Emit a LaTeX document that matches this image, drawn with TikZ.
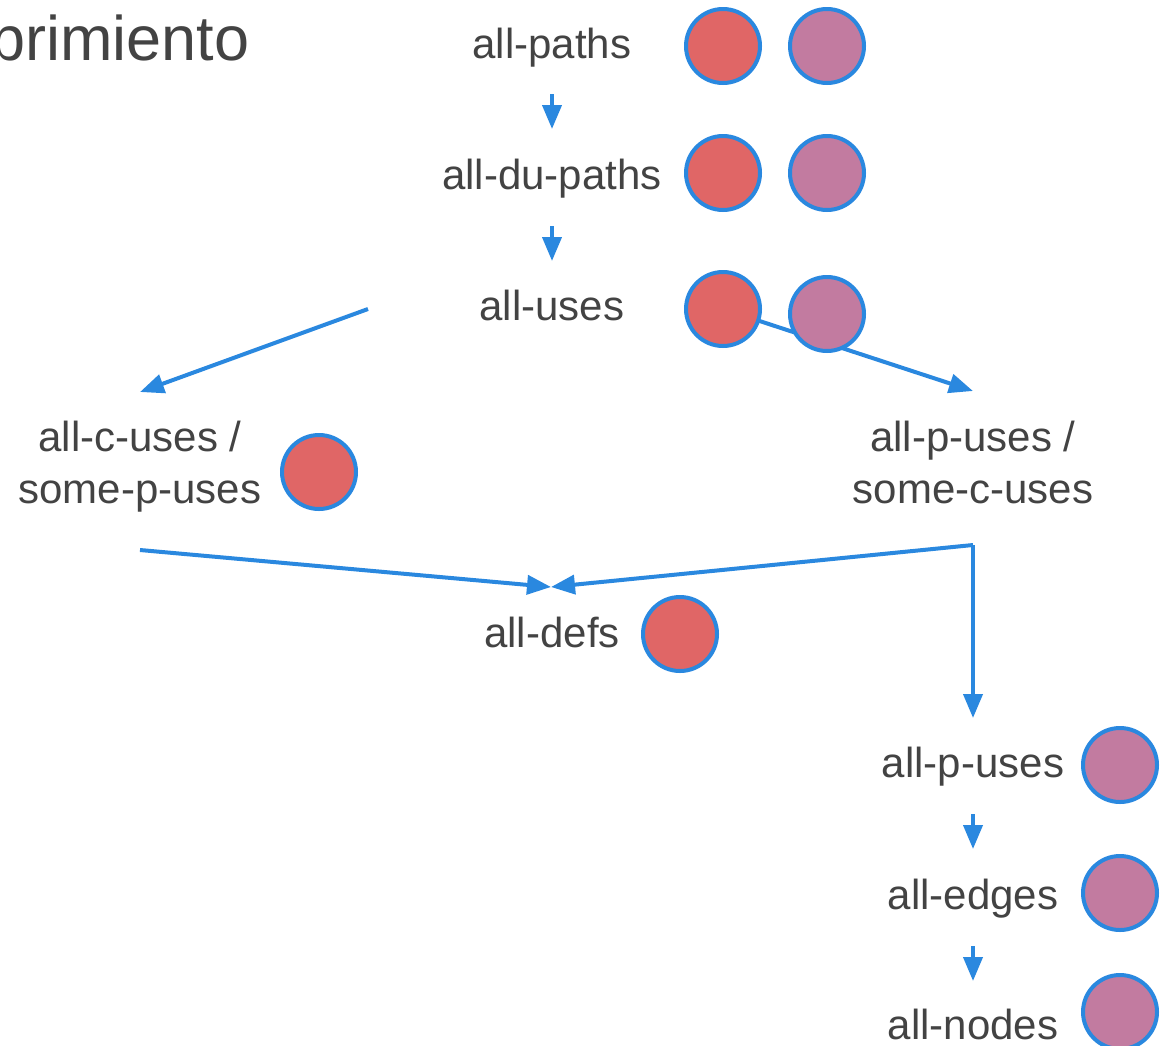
\documentclass[tikz,border=0pt]{standalone}
\usepackage{fontspec}
\setmainfont{Liberation Sans}
\usetikzlibrary{arrows.meta,backgrounds}
\definecolor{txt}{HTML}{434343}
\definecolor{lnblue}{HTML}{2A88DF}
\definecolor{redf}{HTML}{E06666}
\definecolor{purf}{HTML}{C27BA0}
\begin{document}
\begin{tikzpicture}[x=1pt,y=-1pt,
  lbl/.style={anchor=base,inner sep=0pt,text=txt,font=\fontsize{42}{52}\selectfont,align=center},
  dot/.style={circle,draw=lnblue,line width=4pt,minimum size=74pt,inner sep=0pt},
  rdot/.style={dot,fill=redf},
  pdot/.style={dot,fill=purf},
  arr/.style={draw=lnblue,line width=4pt,-{Triangle[length=24pt,width=19pt]}}]
\useasboundingbox (0,0) rectangle (1161,1045);
\clip (0,0) rectangle (1161,1045);
% title (clipped at left edge)
\node[anchor=base west,inner sep=0pt,text=txt,font=\fontsize{63}{75}\selectfont] (title) at (-10,60) {brimiento};
% labels
\node[lbl] (paths) at (552,58) {all-paths};
\node[lbl] (dupaths) at (552,189) {all-du-paths};
\node[lbl] (uses) at (552,320) {all-uses};
\node[lbl] (cuses) at (140,503) {all-c-uses /\\some-p-uses};
\node[lbl] (puses) at (973,503) {all-p-uses /\\some-c-uses};
\node[lbl] (defs) at (552,647) {all-defs};
\node[lbl] (puses2) at (973,777) {all-p-uses};
\node[lbl] (edges) at (973,909) {all-edges};
\node[lbl] (nodes) at (973,1039) {all-nodes};
% circles
\node[rdot] (pathsR) at (723,46) {};
\node[pdot] (pathsP) at (827,46) {};
\node[rdot] (dupathsR) at (723,173) {};
\node[pdot] (dupathsP) at (827,173) {};
\node[rdot] (usesR) at (723,309) {};
\node[pdot] (usesP) at (827,314) {};
\node[rdot] (cusesR) at (319,472) {};
\node[rdot] (defsR) at (680,634) {};
\node[pdot] (puses2P) at (1120,765) {};
\node[pdot] (edgesP) at (1120,893) {};
\node[pdot] (nodesP) at (1120,1012) {};
% free ends of connectors
\coordinate (a1s) at (552,94);   \coordinate (a1e) at (552,129);
\coordinate (a2s) at (552,226);  \coordinate (a2e) at (552,261);
\coordinate (usesL) at (368,309); \coordinate (cusesIn) at (140,392);
\coordinate (pusesIn) at (973,391);
\coordinate (cusesOut) at (140,550); \coordinate (pusesOut) at (973,545);
\coordinate (defsIn) at (551,587);
\coordinate (puses2In) at (973,718);
\coordinate (a3s) at (973,814);  \coordinate (a3e) at (973,849);
\coordinate (a4s) at (973,946);  \coordinate (a4e) at (973,981);
% connectors
\draw[arr] (a1s) -- (a1e);
\draw[arr] (a2s) -- (a2e);
\draw[arr] (usesL) -- (cusesIn);
\begin{scope}[on background layer]
\draw[arr] (usesR.center) -- (pusesIn);
\end{scope}
\draw[arr] (cusesOut) -- (defsIn);
\draw[arr] (pusesOut) -- (defsIn);
\draw[arr] (pusesOut) -- (puses2In);
\draw[arr] (a3s) -- (a3e);
\draw[arr] (a4s) -- (a4e);
\end{tikzpicture}
\end{document}
